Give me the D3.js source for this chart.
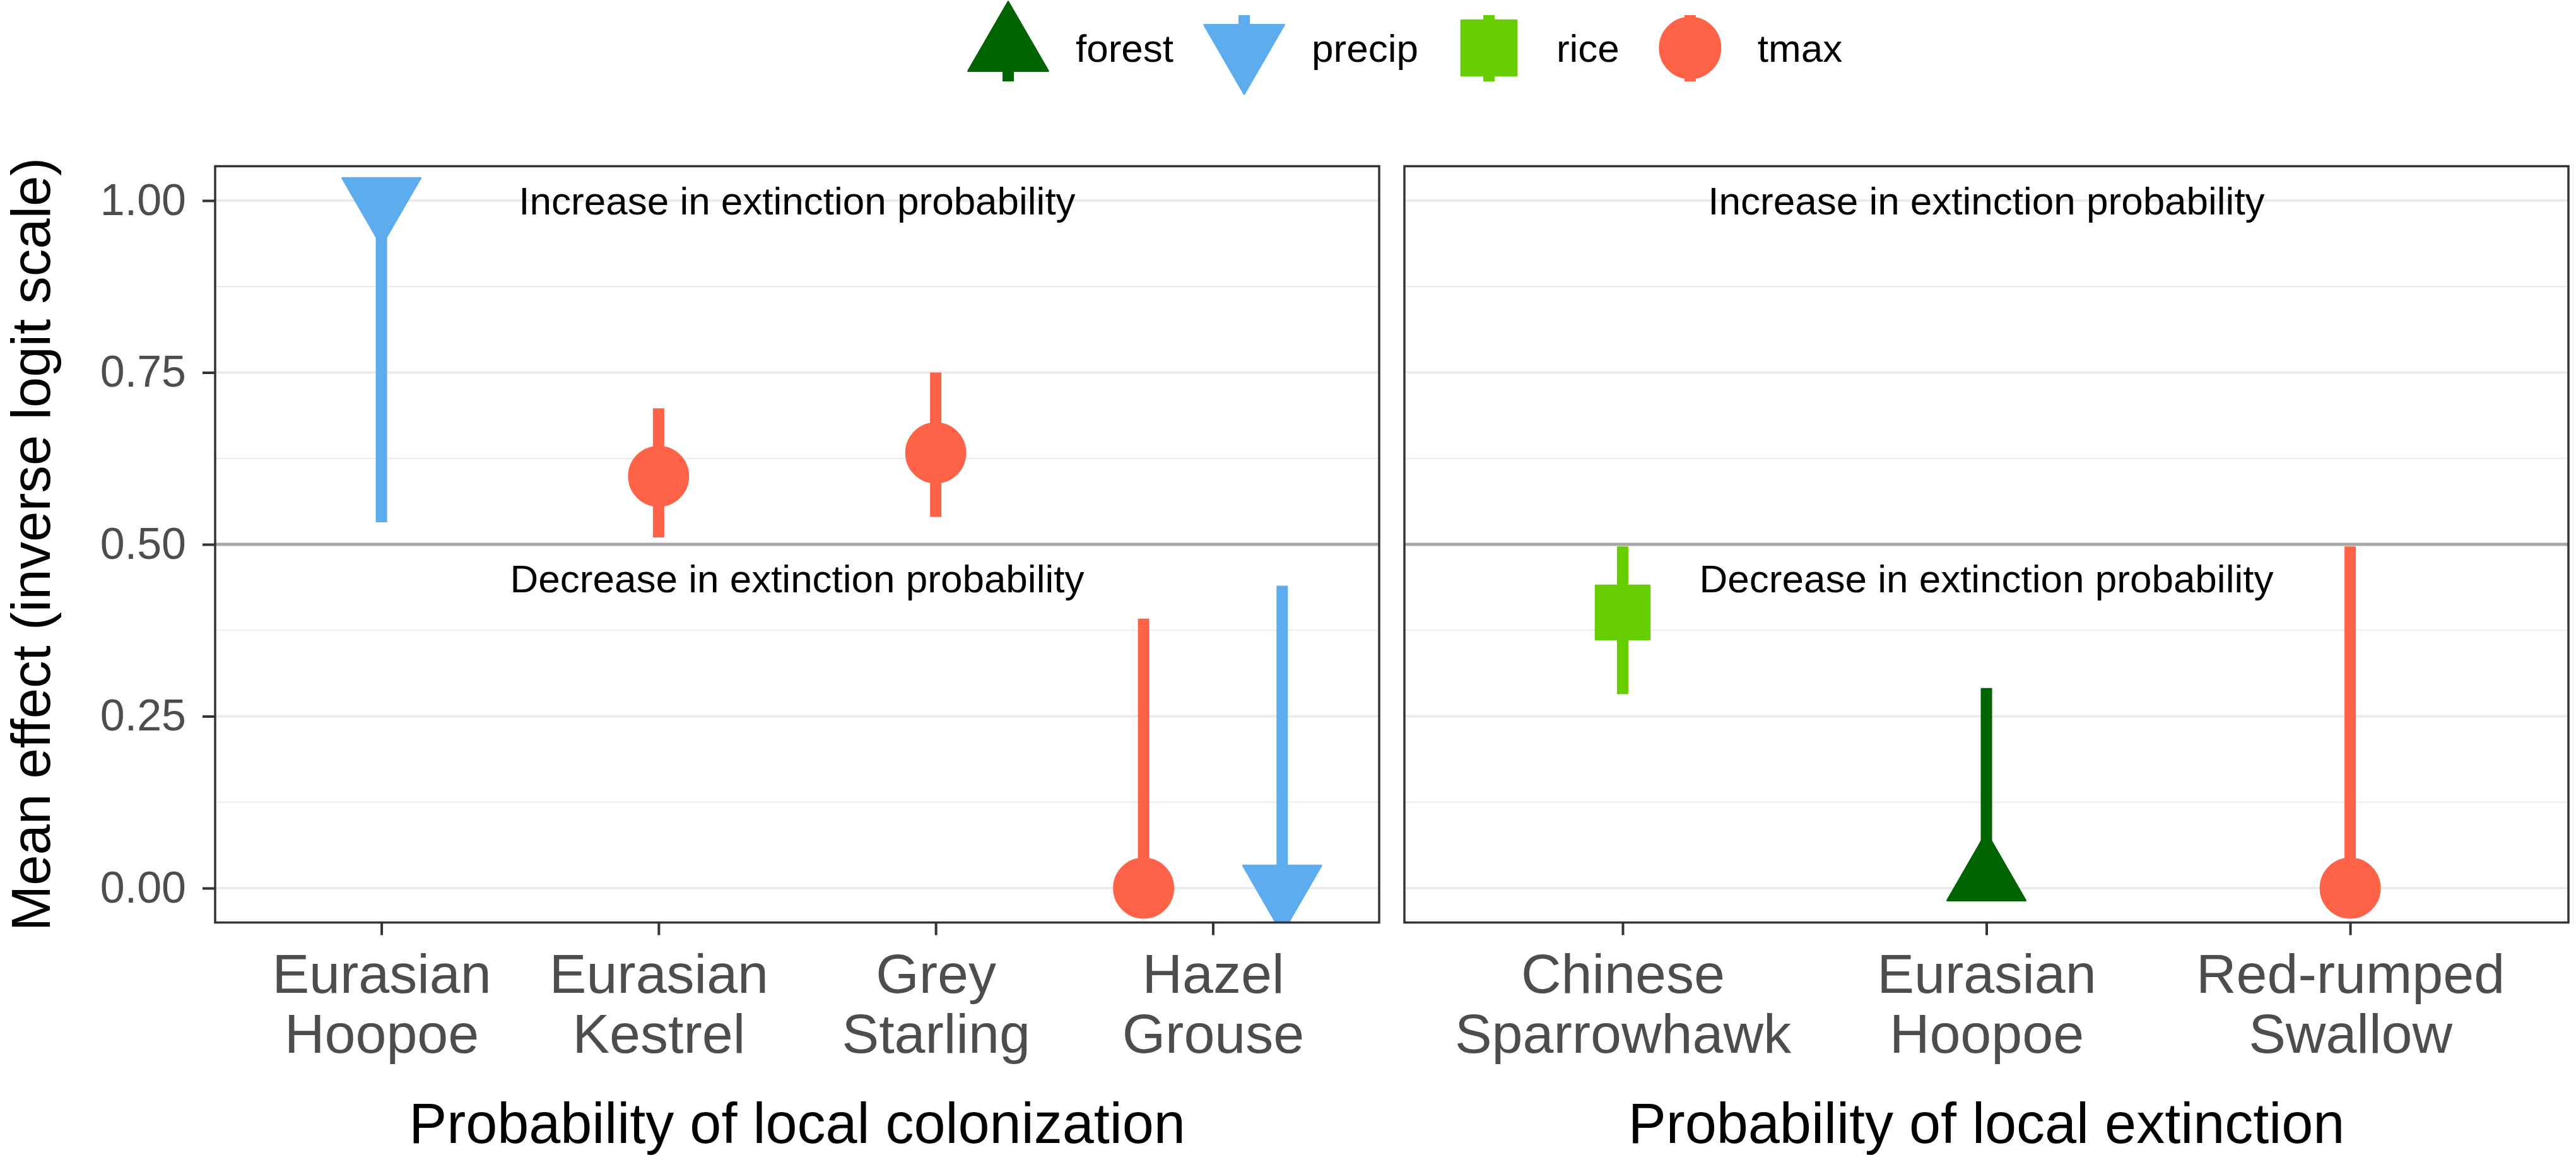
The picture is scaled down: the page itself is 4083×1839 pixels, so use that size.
<!DOCTYPE html>
<html>
<head>
<meta charset="utf-8">
<script src="https://cdn.jsdelivr.net/npm/d3@7"></script>
<style>
  body { margin: 0; background: #fff; }
  text { font-family: "Liberation Sans", Arial, sans-serif; }
</style>
</head>
<body>
<div id="chart"></div>
<script>
var w = 4083,
  h = 1839;

// species on each facet, in axis order
var colonizationSpecies = ["Eurasian Hoopoe", "Eurasian Kestrel", "Grey Starling", "Hazel Grouse"];
var extinctionSpecies = ["Chinese Sparrowhawk", "Eurasian Hoopoe", "Red-rumped Swallow"];

// mean effect and interval
var colonizationEffects = [
  { species: "Eurasian Hoopoe", cov: "precip", mean: 1.0, lo: 0.532, hi: 1.0 },
  { species: "Eurasian Kestrel", cov: "tmax", mean: 0.599, lo: 0.51, hi: 0.698 },
  { species: "Grey Starling", cov: "tmax", mean: 0.633, lo: 0.54, hi: 0.75 },
  { species: "Hazel Grouse", cov: "tmax", mean: 0.0, lo: 0.0, hi: 0.392 },
  { species: "Hazel Grouse", cov: "precip", mean: 0.0, lo: 0.0, hi: 0.44 },
];
var extinctionEffects = [
  { species: "Chinese Sparrowhawk", cov: "rice", mean: 0.401, lo: 0.282, hi: 0.497 },
  { species: "Eurasian Hoopoe", cov: "forest", mean: 0.015, lo: 0.0, hi: 0.291 },
  { species: "Red-rumped Swallow", cov: "tmax", mean: 0.0, lo: 0.0, hi: 0.497 },
];

var covariates = ["forest", "precip", "rice", "tmax"];
var covColors = ["#006400", "#5CACEE", "#66CD00", "#FF6347"];

var yTicks = [0, 0.25, 0.5, 0.75, 1];
var yMinor = [0.125, 0.375, 0.625, 0.875];
var yDomain = [-0.05, 1.05];
var threshold = 0.5;

var panels = [
  { id: "col", species: colonizationSpecies, data: colonizationEffects,
    title: "Probability of local colonization", labelAt: 1.5, x0: 341, x1: 2186 },
  { id: "ext", species: extinctionSpecies, data: extinctionEffects,
    title: "Probability of local extinction", labelAt: 1, x0: 2226, x1: 4071 },
];

var panelTop = 263.5,
  panelBottom = 1462.5;

var color = d3.scaleOrdinal(covariates, covColors);
var y = d3.scaleLinear().domain(yDomain).range([panelBottom, panelTop]);

var svg = d3
  .select("#chart")
  .append("svg")
  .attr("width", w)
  .attr("height", h);

// R-like point glyphs, u = symbol radius
var shapePath = (cov, u) => {
  if (cov === "forest") {
    return `M0,${-1.555 * u}L${1.347 * u},${0.7776 * u}L${-1.347 * u},${0.7776 * u}Z`;
  } else if (cov === "precip") {
    return `M0,${1.555 * u}L${1.347 * u},${-0.7776 * u}L${-1.347 * u},${-0.7776 * u}Z`;
  } else if (cov === "rice") {
    var s = 0.93 * u;
    return `M${-s},${-s}H${s}V${s}H${-s}Z`;
  }
  return d3.arc()({ innerRadius: 0, outerRadius: 1.02 * u, startAngle: 0, endAngle: 2 * Math.PI });
};

var lineW = 18,
  u = 46;

panels.forEach((p) => {
  var x = d3.scalePoint().domain(p.species).range([p.x0, p.x1]).padding(0.6);
  var step = x.step();

  var g = svg.append("g");

  g.append("clipPath")
    .attr("id", "clip-" + p.id)
    .append("rect")
    .attr("x", p.x0)
    .attr("y", panelTop)
    .attr("width", p.x1 - p.x0)
    .attr("height", panelBottom - panelTop);

  // grid
  g.selectAll(".minor")
    .data(yMinor)
    .enter()
    .append("line")
    .attr("x1", p.x0)
    .attr("x2", p.x1)
    .attr("y1", (d) => y(d))
    .attr("y2", (d) => y(d))
    .attr("stroke", "#EBEBEB")
    .attr("stroke-width", 2);

  g.selectAll(".major")
    .data(yTicks)
    .enter()
    .append("line")
    .attr("x1", p.x0)
    .attr("x2", p.x1)
    .attr("y1", (d) => y(d))
    .attr("y2", (d) => y(d))
    .attr("stroke", "#EBEBEB")
    .attr("stroke-width", 4);

  g.append("line")
    .attr("x1", p.x0)
    .attr("x2", p.x1)
    .attr("y1", y(threshold))
    .attr("y2", y(threshold))
    .attr("stroke", "#A6A6A6")
    .attr("stroke-width", 5);

  // annotations
  var labelX = x(p.species[0]) + p.labelAt * step;
  g.append("text")
    .attr("x", labelX)
    .attr("y", y(1.0))
    .attr("dy", "0.35em")
    .attr("text-anchor", "middle")
    .attr("font-size", 62)
    .attr("fill", "#000")
    .text("Increase in extinction probability");
  g.append("text")
    .attr("x", labelX)
    .attr("y", y(0.45))
    .attr("dy", "0.35em")
    .attr("text-anchor", "middle")
    .attr("font-size", 62)
    .attr("fill", "#000")
    .text("Decrease in extinction probability");

  // dodge covariates within a species
  var groups = d3.group(p.data, (d) => d.species);
  var pos = (d) => {
    var list = groups.get(d.species);
    var i = list.indexOf(d);
    return x(d.species) + (i - (list.length - 1) / 2) * 0.5 * step;
  };

  var marks = g.append("g").attr("clip-path", `url(#clip-${p.id})`);

  marks
    .selectAll(".range")
    .data(p.data)
    .enter()
    .append("line")
    .attr("x1", pos)
    .attr("x2", pos)
    .attr("y1", (d) => y(d.lo))
    .attr("y2", (d) => y(d.hi))
    .attr("stroke", (d) => color(d.cov))
    .attr("stroke-width", lineW);

  marks
    .selectAll(".pt")
    .data(p.data)
    .enter()
    .append("path")
    .attr("transform", (d) => `translate(${pos(d)},${y(d.mean)})`)
    .attr("d", (d) => shapePath(d.cov, u))
    .attr("fill", (d) => color(d.cov))
    .attr("stroke", (d) => color(d.cov))
    .attr("stroke-width", 3)
    .attr("stroke-linejoin", "round");

  // panel border
  g.append("rect")
    .attr("x", p.x0)
    .attr("y", panelTop)
    .attr("width", p.x1 - p.x0)
    .attr("height", panelBottom - panelTop)
    .attr("fill", "none")
    .attr("stroke", "#333333")
    .attr("stroke-width", 3.5);

  // x axis
  var xAxis = g
    .append("g")
    .attr("transform", `translate(0,${panelBottom})`)
    .call(d3.axisBottom(x).tickSize(20).tickSizeOuter(0));
  xAxis.select(".domain").remove();
  xAxis.selectAll(".tick line").attr("stroke", "#333333").attr("stroke-width", 4);
  xAxis
    .selectAll(".tick text")
    .attr("y", null)
    .attr("dy", null)
    .attr("font-size", 88)
    .attr("fill", "#4D4D4D")
    .text(null)
    .each(function (d) {
      var parts = d.split(" ");
      var t = d3.select(this);
      parts.forEach((s, i) => {
        t.append("tspan")
          .attr("x", 0)
          .attr("y", 111.5 + i * 95)
          .text(s);
      });
    });

  g.append("text")
    .attr("x", (p.x0 + p.x1) / 2)
    .attr("y", 1812)
    .attr("text-anchor", "middle")
    .attr("font-size", 90)
    .attr("fill", "#000")
    .text(p.title);
});

// y axis on the left panel
var yAxis = svg
  .append("g")
  .attr("transform", `translate(${panels[0].x0},0)`)
  .call(
    d3
      .axisLeft(y)
      .tickValues(yTicks)
      .tickFormat(d3.format(".2f"))
      .tickSize(20)
      .tickPadding(26)
  );
yAxis.select(".domain").remove();
yAxis.selectAll(".tick line").attr("stroke", "#333333").attr("stroke-width", 4);
yAxis
  .selectAll(".tick text")
  .attr("font-size", 70)
  .attr("fill", "#4D4D4D")
  .attr("font-family", "Liberation Sans, Arial, sans-serif");

svg
  .append("text")
  .attr("transform", `translate(79,${(panelTop + panelBottom) / 2})rotate(-90)`)
  .attr("text-anchor", "middle")
  .attr("font-size", 87)
  .attr("fill", "#000")
  .text("Mean effect (inverse logit scale)");

// legend
var legend = svg.append("g").attr("transform", "translate(1598,76)");
var cx = 0;
covariates.forEach((c) => {
  var item = legend.append("g").attr("transform", `translate(${cx},0)`);
  item
    .append("line")
    .attr("y1", -52)
    .attr("y2", 53)
    .attr("stroke", color(c))
    .attr("stroke-width", lineW);
  item
    .append("path")
    .attr("d", shapePath(c, 47))
    .attr("fill", color(c))
    .attr("stroke", color(c))
    .attr("stroke-width", 3)
    .attr("stroke-linejoin", "round");
  var label = item
    .append("text")
    .attr("x", 107)
    .attr("dy", "0.35em")
    .attr("font-size", 62)
    .attr("fill", "#000")
    .text(c);
  cx += 107 + label.node().getComputedTextLength() + 112;
});
</script>
</body>
</html>
